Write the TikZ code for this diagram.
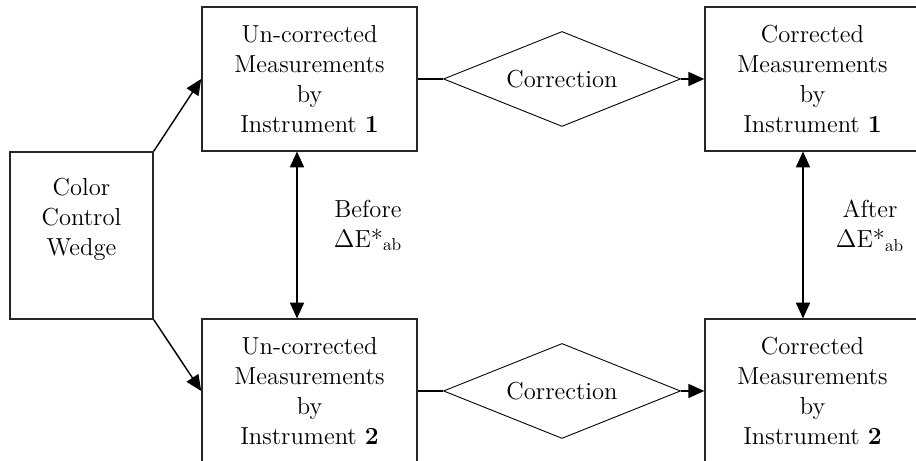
\documentclass[tikz,border=0pt]{standalone}
\usetikzlibrary{shapes.geometric,arrows.meta}

\begin{document}
\begin{tikzpicture}[
  font=\fontsize{14}{17}\selectfont,
  box/.style={draw=black!85, line width=0.9pt, align=center, minimum width=4.3cm, minimum height=2.87cm, inner sep=2pt},
  cond/.style={draw, diamond, line width=0.5pt, aspect=2.5, inner sep=0pt, minimum width=4.74cm, minimum height=1.9cm},
  conn/.style={line width=0.8pt, -{Triangle[length=9pt,width=8pt]}},
  tie/.style={line width=0.9pt, {Triangle[length=9pt,width=8pt]}-{Triangle[length=9pt,width=8pt]}}
]
\useasboundingbox (0,0) rectangle (18.32,9.22);
\clip (0,0) rectangle (18.32,9.22);

\node[box, minimum width=2.86cm, minimum height=3.34cm,
  label={[align=center, yshift=0.32cm]center:Color\\Control\\Wedge}] (wedge) at (1.63,4.51) {};
\node[box] (raw1) at (6.19,7.64) {Un-corrected\\Measurements\\by\\Instrument \textbf{1}};
\node[box] (raw2) at (6.19,1.40) {Un-corrected\\Measurements\\by\\Instrument \textbf{2}};
\node[cond] (fix1) at (11.24,7.64) {Correction};
\node[cond] (fix2) at (11.24,1.40) {Correction};
\node[box] (cor1) at (16.25,7.64) {Corrected\\Measurements\\by\\Instrument \textbf{1}};
\node[box] (cor2) at (16.25,1.40) {Corrected\\Measurements\\by\\Instrument \textbf{2}};

\node[align=center] (before) at (7.36,4.71) {Before\\\(\Delta\)E*\textsubscript{ab}};
\node[align=center] (after) at (17.40,4.71) {After\\\(\Delta\)E*\textsubscript{ab}};

\path[draw,conn] (wedge.north east) -- (raw1.west);
\path[draw,conn] (wedge.south east) -- (raw2.west);
\path[draw,line width=0.8pt] (raw1.east) -- (fix1.west);
\path[draw,line width=0.8pt] (raw2.east) -- (fix2.west);
\path[draw,conn] (fix1.east) -- (cor1.west);
\path[draw,conn] (fix2.east) -- (cor2.west);
\path[draw,tie] ([xshift=-0.25cm]raw1.south) -- ([xshift=-0.25cm]raw2.north);
\path[draw,tie] ([xshift=-0.19cm]cor1.south) -- ([xshift=-0.19cm]cor2.north);
\end{tikzpicture}
\end{document}
